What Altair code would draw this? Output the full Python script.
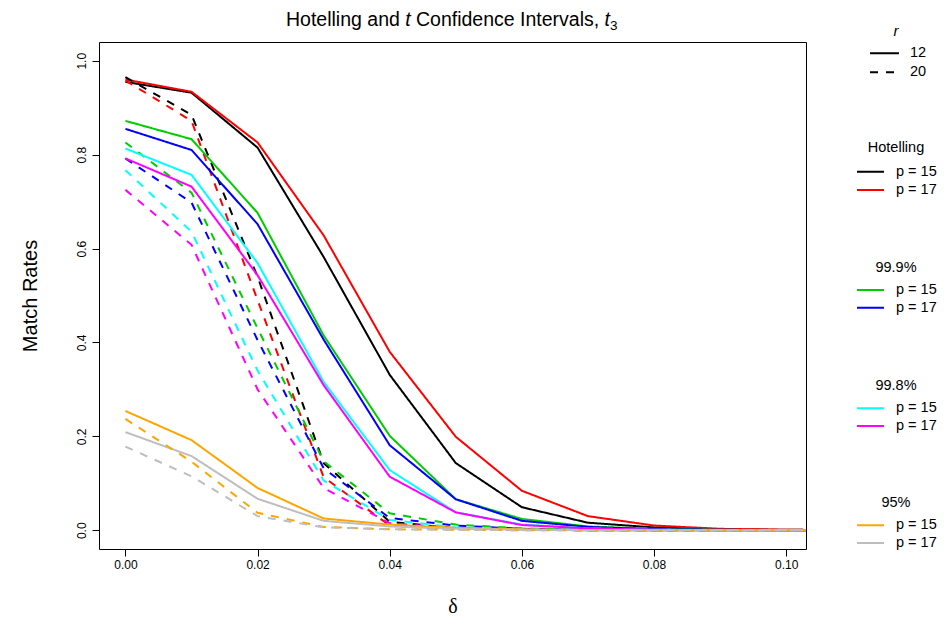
import altair as alt
import pandas as pd

# ---------------- data ----------------
delta = [0.00, 0.01, 0.02, 0.03, 0.04, 0.05, 0.06, 0.07, 0.08, 0.09, 0.10, 0.11]

groups = ["Hotelling", "99.9%", "99.8%", "95%"]
p_labels = ["p = 15", "p = 17"]
r_labels = ["12", "20"]

hot_p15_r12 = [0.955, 0.932, 0.815, 0.582, 0.331, 0.143, 0.049, 0.016, 0.006, 0.002, 0.001, 0.0]
hot_p17_r12 = [0.960, 0.934, 0.826, 0.628, 0.380, 0.199, 0.084, 0.030, 0.010, 0.003, 0.001, 0.0]
hot_p15_r20 = [0.965, 0.885, 0.540, 0.143, 0.018, 0.004, 0.001, 0.0, 0.0, 0.0, 0.0, 0.0]
hot_p17_r20 = [0.958, 0.872, 0.490, 0.113, 0.010, 0.002, 0.001, 0.0, 0.0, 0.0, 0.0, 0.0]

c999_p15_r12 = [0.872, 0.833, 0.676, 0.415, 0.201, 0.066, 0.024, 0.008, 0.003, 0.001, 0.0, 0.0]
c999_p17_r12 = [0.855, 0.810, 0.652, 0.406, 0.181, 0.066, 0.020, 0.007, 0.002, 0.001, 0.0, 0.0]
c999_p15_r20 = [0.826, 0.719, 0.430, 0.147, 0.036, 0.012, 0.004, 0.001, 0.0, 0.0, 0.0, 0.0]
c999_p17_r20 = [0.792, 0.698, 0.405, 0.132, 0.026, 0.010, 0.003, 0.001, 0.0, 0.0, 0.0, 0.0]

c998_p15_r12 = [0.813, 0.757, 0.569, 0.316, 0.128, 0.038, 0.012, 0.004, 0.001, 0.0, 0.0, 0.0]
c998_p17_r12 = [0.792, 0.732, 0.543, 0.309, 0.114, 0.038, 0.011, 0.004, 0.001, 0.0, 0.0, 0.0]
c998_p15_r20 = [0.767, 0.636, 0.340, 0.106, 0.022, 0.006, 0.002, 0.0, 0.0, 0.0, 0.0, 0.0]
c998_p17_r20 = [0.725, 0.608, 0.300, 0.090, 0.015, 0.004, 0.001, 0.0, 0.0, 0.0, 0.0, 0.0]

c95_p15_r12 = [0.254, 0.192, 0.090, 0.025, 0.012, 0.005, 0.002, 0.0, 0.0, 0.0, 0.0, 0.0]
c95_p17_r12 = [0.209, 0.158, 0.067, 0.020, 0.008, 0.003, 0.001, 0.0, 0.0, 0.0, 0.0, 0.0]
c95_p15_r20 = [0.237, 0.146, 0.037, 0.007, 0.002, 0.001, 0.0, 0.0, 0.0, 0.0, 0.0, 0.0]
c95_p17_r20 = [0.178, 0.115, 0.030, 0.006, 0.002, 0.001, 0.0, 0.0, 0.0, 0.0, 0.0, 0.0]

series_table = [
    ("Hotelling", "p = 15", "12", hot_p15_r12),
    ("Hotelling", "p = 17", "12", hot_p17_r12),
    ("Hotelling", "p = 15", "20", hot_p15_r20),
    ("Hotelling", "p = 17", "20", hot_p17_r20),
    ("99.9%", "p = 15", "12", c999_p15_r12),
    ("99.9%", "p = 17", "12", c999_p17_r12),
    ("99.9%", "p = 15", "20", c999_p15_r20),
    ("99.9%", "p = 17", "20", c999_p17_r20),
    ("99.8%", "p = 15", "12", c998_p15_r12),
    ("99.8%", "p = 17", "12", c998_p17_r12),
    ("99.8%", "p = 15", "20", c998_p15_r20),
    ("99.8%", "p = 17", "20", c998_p17_r20),
    ("95%", "p = 15", "12", c95_p15_r12),
    ("95%", "p = 17", "12", c95_p17_r12),
    ("95%", "p = 15", "20", c95_p15_r20),
    ("95%", "p = 17", "20", c95_p17_r20),
]

series_names = [f"{g} {p}" for g in groups for p in p_labels]
series_colors = ["#000000", "#FF0000", "#00CD00", "#0000FF",
                 "#00FFFF", "#FF00FF", "#FFA500", "#BEBEBE"]

rows = []
for g, p, r, vals in series_table:
    for d, v in zip(delta, vals):
        rows.append({"delta": d, "value": v, "series": f"{g} {p}", "r": r})
df = pd.DataFrame(rows)

W, H = 707, 507
SANS = "Liberation Sans"

lines = alt.Chart(df).mark_line(strokeWidth=2, clip=True, strokeCap="butt").encode(
    x=alt.X("delta:Q",
            scale=alt.Scale(domain=[-0.004, 0.103], nice=False, zero=False),
            axis=alt.Axis(values=[0, 0.02, 0.04, 0.06, 0.08, 0.10], format=".2f",
                          title="δ", titleFont="Liberation Serif", titleFontSize=20,
                          titleFontWeight="normal", titleX=W / 2, titleY=57,
                          titleBaseline="middle", titleAlign="center",
                          labelPadding=3)),
    y=alt.Y("value:Q",
            scale=alt.Scale(domain=[-0.04, 1.04], nice=False, zero=False),
            axis=alt.Axis(values=[0, 0.2, 0.4, 0.6, 0.8, 1.0], format=".1f",
                          labelAngle=270, labelAlign="center", labelBaseline="bottom",
                          labelPadding=4,
                          title="Match Rates", titleFont=SANS, titleFontSize=20,
                          titleFontWeight="normal", titleAngle=270, titleX=-69,
                          titleY=H / 2, titleBaseline="middle", titleAlign="center")),
    color=alt.Color("series:N", scale=alt.Scale(domain=series_names, range=series_colors),
                    legend=None),
    strokeDash=alt.StrokeDash("r:N", scale=alt.Scale(domain=r_labels, range=[[1, 0], [8, 8]]),
                              legend=None),
)

one = pd.DataFrame({"k": [0]})
layers = [lines]

def text(txt, x, y, size=14.5, align="left", style="normal", font=SANS, baseline="middle"):
    return alt.Chart(one).mark_text(text=txt, align=align, baseline=baseline, fontSize=size,
                                    font=font, fontStyle=style, color="black").encode(
        x=alt.value(x), y=alt.value(y))

def rule(x1, x2, y, color, dash):
    return alt.Chart(one).mark_rule(strokeWidth=2, color=color, strokeDash=dash,
                                    strokeCap="butt").encode(
        x=alt.value(x1), x2=alt.value(x2), y=alt.value(y))

# --- r legend ---
layers.append(text("r", 797, -11, style="italic", align="center", size=15))
layers.append(rule(771, 800, 11.3, "black", [1, 0]))
layers.append(rule(771, 800, 30.3, "black", [8, 8]))
layers.append(text("12", 811, 11.3))
layers.append(text("20", 811, 30.3))

# --- group legends ---
legend_title_y = [106, 226, 343.7, 461.3]
legend_row_y = [(129.7, 148), (248, 265.7), (366.3, 384), (483.3, 501)]
for i, g in enumerate(groups):
    layers.append(text(g, 797, legend_title_y[i], align="center"))
    for j, p in enumerate(p_labels):
        yy = legend_row_y[i][j]
        layers.append(rule(758, 785, yy, series_colors[2 * i + j], [1, 0]))
        layers.append(text(p, 797, yy))

# --- title with italic t and subscript ---
tx0 = 187
ty = -16
TS = 19.5
layers.append(text("Hotelling and", tx0, ty, size=TS, baseline="alphabetic"))
layers.append(text("t", tx0 + 119.2, ty, size=TS, style="italic", baseline="alphabetic"))
layers.append(text("Confidence Intervals,", tx0 + 130.0, ty, size=TS, baseline="alphabetic"))
layers.append(text("t", tx0 + 318.6, ty, size=TS, style="italic", baseline="alphabetic"))
layers.append(text("3", tx0 + 324.0, ty + 4, size=13.5, baseline="alphabetic"))

chart = alt.layer(*layers).properties(
    width=W, height=H,
    padding={"left": 91, "top": 34, "right": 132, "bottom": 68},
    autosize=alt.AutoSizeParams(type="none"),
).configure_view(
    stroke="black", strokeWidth=1
).configure_axis(
    grid=False, domain=False, ticks=True, tickSize=7, tickColor="black", tickWidth=1,
    labelFont=SANS, labelFontSize=12, labelColor="black", titleColor="black",
)

chart.save("out.html", embed_options={"renderer": "svg", "actions": False})
